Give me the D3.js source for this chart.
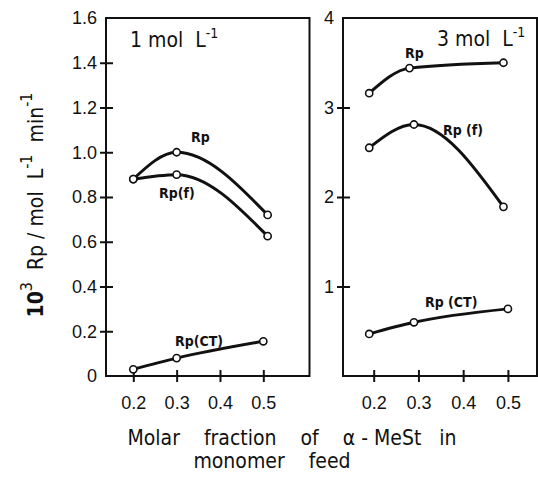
<!DOCTYPE html>
<html lang="en">
<head>
<meta charset="utf-8">
<title>Rp vs molar fraction</title>
<script src="https://cdn.jsdelivr.net/npm/d3@7"></script>
<style>
  body { margin: 0; background: #fff; }
  svg { font-family: "DejaVu Sans Condensed", "DejaVu Sans", sans-serif; }
  .frame { fill: none; stroke: #111; stroke-width: 2; }
  .tick line { stroke: #111; stroke-width: 2; }
  .tick text { fill: #111; font-size: 18px; }
  .domain { display: none; }
  .curve { fill: none; stroke: #111; stroke-width: 3; }
  .pt { fill: #fff; stroke: #111; stroke-width: 1.6; }
  .lbl { fill: #111; font-size: 14px; font-weight: bold; }
  .title { fill: #111; font-size: 21px; white-space: pre; }
</style>
</head>
<body>
<script>
// x values (molar fraction of alpha-MeSt) and rates
var xTicks = [0.2, 0.3, 0.4, 0.5];

// 1 mol/L panel
var x1 = [0.2, 0.3, 0.51];
var rp1 = [0.88, 1.0, 0.72];
var rpf1 = [0.88, 0.90, 0.625];
var xct1 = [0.2, 0.3, 0.5];
var rpct1 = [0.03, 0.08, 0.155];
var yTicks1 = [0, 0.2, 0.4, 0.6, 0.8, 1.0, 1.2, 1.4, 1.6];

// 3 mol/L panel
var x3 = [0.19, 0.28, 0.49];
var rp3 = [3.16, 3.44, 3.5];
var xf3 = [0.19, 0.29, 0.49];
var rpf3 = [2.55, 2.81, 1.89];
var xct3 = [0.19, 0.29, 0.5];
var rpct3 = [0.47, 0.60, 0.75];
var yTicks3 = [1, 2, 3, 4];

var W = 538, H = 478;
var yTop = 18, yBot = 376;

var svg = d3.select("body").append("svg")
  .attr("width", W)
  .attr("height", H);

function panel(opt) {
  var xs = d3.scaleLinear().domain(opt.xDomain).range([opt.left, opt.right]);
  var ys = d3.scaleLinear().domain(opt.yDomain).range([yBot, yTop]);
  var g = svg.append("g");

  g.append("rect")
    .attr("class", "frame")
    .attr("x", opt.left).attr("y", yTop)
    .attr("width", opt.right - opt.left)
    .attr("height", yBot - yTop);

  // cross ticks on the left axis
  var yAx = g.append("g")
    .attr("transform", "translate(" + (opt.left + 7) + ",0)")
    .call(d3.axisLeft(ys).tickValues(opt.yTicks).tickSize(13).tickPadding(3)
      .tickFormat(opt.yFormat));
  yAx.selectAll(".tick line").filter(function (d) { return d === 0 || d === opt.yDomain[1]; }).remove();

  g.append("g")
    .attr("transform", "translate(0," + (yBot + 6) + ")")
    .call(d3.axisBottom(xs).tickValues(xTicks).tickSize(-12).tickPadding(14)
      .tickFormat(d3.format(".1f")));

  opt.series.forEach(function (s) {
    var pts = s.x.map(function (v, i) { return [xs(v), ys(s.y[i])]; });
    g.append("path")
      .attr("class", "curve")
      .attr("d", d3.line().curve(d3.curveMonotoneX)(pts));
    g.selectAll(null).data(pts).enter().append("circle")
      .attr("class", "pt")
      .attr("cx", function (d) { return d[0]; })
      .attr("cy", function (d) { return d[1]; })
      .attr("r", 3.6);
    g.append("text")
      .attr("class", "lbl")
      .attr("x", s.lx).attr("y", s.ly)
      .text(s.name);
  });

  var t = g.append("text")
    .attr("class", "title")
    .attr("x", opt.tx).attr("y", opt.ty);
  t.append("tspan").text(opt.title);
  t.append("tspan").attr("dy", -9).attr("font-size", "14px").text("-1");
}

panel({
  left: 106, right: 309.5,
  xDomain: [0.137, 0.6066],
  yDomain: [0, 1.6],
  yTicks: yTicks1,
  yFormat: function (d) { return d === 0 ? "0" : d3.format(".1f")(d); },
  title: "1 mol  L", tx: 130, ty: 47,
  series: [
    { name: "Rp", x: x1, y: rp1, lx: 191, ly: 142 },
    { name: "Rp(f)", x: x1, y: rpf1, lx: 159, ly: 198 },
    { name: "Rp(CT)", x: xct1, y: rpct1, lx: 175, ly: 346 }
  ]
});

panel({
  left: 343, right: 537,
  xDomain: [0.1314, 0.565],
  yDomain: [0, 4],
  yTicks: yTicks3,
  yFormat: d3.format("d"),
  title: "3 mol  L", tx: 437, ty: 46,
  series: [
    { name: "Rp", x: x3, y: rp3, lx: 405, ly: 58 },
    { name: "Rp (f)", x: xf3, y: rpf3, lx: 443, ly: 135 },
    { name: "Rp (CT)", x: xct3, y: rpct3, lx: 425, ly: 307 }
  ]
});

// y-axis title
var yt = svg.append("text")
  .attr("class", "title")
  .attr("transform", "translate(43,205) rotate(-90)")
  .attr("text-anchor", "middle")
  .attr("font-size", "25px");
yt.append("tspan").attr("font-weight", "bold").text("10");
yt.append("tspan").attr("dy", -11).attr("font-size", "16px").text("3");
yt.append("tspan").attr("dy", 11).text("  Rp / mol  L");
yt.append("tspan").attr("dy", -11).attr("font-size", "16px").text("-1");
yt.append("tspan").attr("dy", 11).text("  min");
yt.append("tspan").attr("dy", -11).attr("font-size", "16px").text("-1");

// x-axis title
svg.append("text")
  .attr("class", "title")
  .attr("x", 292).attr("y", 445)
  .attr("text-anchor", "middle")
  .attr("font-size", "18px")
  .text("Molar    fraction    of    \u03b1 - MeSt   in");
svg.append("text")
  .attr("class", "title")
  .attr("x", 272).attr("y", 468)
  .attr("text-anchor", "middle")
  .attr("font-size", "18px")
  .text("monomer    feed");
</script>
</body>
</html>
